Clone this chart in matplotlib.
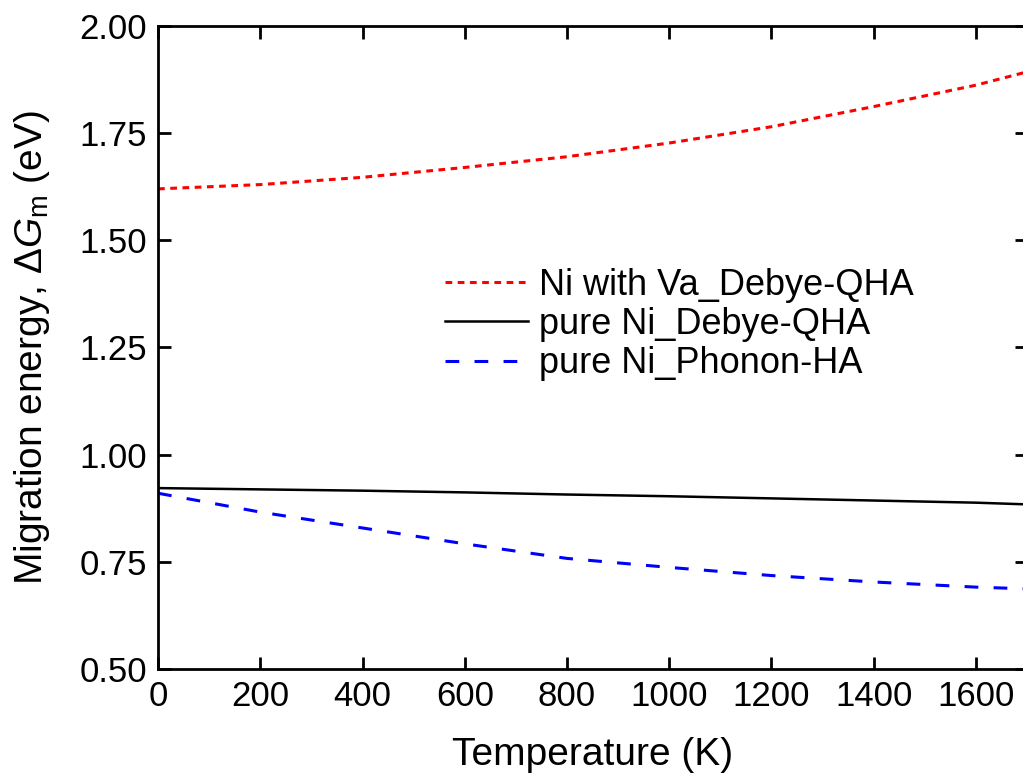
import numpy as np
import matplotlib
matplotlib.use("Agg")
from matplotlib import pyplot as plt

plt.rcParams['font.family'] = ['Liberation Sans', 'DejaVu Sans']
plt.rcParams['mathtext.fontset'] = 'custom'
plt.rcParams['mathtext.rm'] = 'Liberation Sans'
plt.rcParams['mathtext.it'] = 'Liberation Sans:italic'

# temperature grid (K) and migration energies (eV)
T = [0, 200, 400, 600, 800, 1000, 1200, 1400, 1600, 1700]
ni_va_debye = [1.620, 1.630, 1.647, 1.670, 1.695, 1.727, 1.765, 1.812, 1.862, 1.893]
ni_debye = [0.922, 0.919, 0.916, 0.912, 0.907, 0.903, 0.898, 0.893, 0.888, 0.884]
ni_phonon = [0.910, 0.866, 0.829, 0.792, 0.758, 0.737, 0.718, 0.703, 0.691, 0.687]

labels = ['Ni with Va_Debye-QHA', 'pure Ni_Debye-QHA', 'pure Ni_Phonon-HA']
xticks = [0, 200, 400, 600, 800, 1000, 1200, 1400, 1600]
yticks = [0.50, 0.75, 1.00, 1.25, 1.50, 1.75, 2.00]

fig = plt.figure(figsize=(10.23, 7.8), dpi=100)
ax = fig.add_axes([0.1545, 0.1423, 0.8495, 0.8244])

ax.plot(T, ni_va_debye, color='red', lw=2.2, dashes=(2.2, 1.8), label=labels[0])
ax.plot(T, ni_debye, color='black', lw=1.8, label=labels[1])
ax.plot(T, ni_phonon, color='blue', lw=2.2, dashes=(4.5, 5), label=labels[2])

ax.set_xlim(0, 1700)
ax.set_ylim(0.5, 2.0)
ax.set_xticks(xticks)
ax.set_yticks(yticks)
ax.set_yticklabels(['%.2f' % v for v in yticks])

for s in ax.spines.values():
    s.set_linewidth(2.0)
ax.tick_params(direction='in', length=9, width=2.0, labelsize=25,
               top=True, right=True, pad=8)

ax.set_xlabel('Temperature (K)', fontsize=28, labelpad=17)
ax.set_ylabel(r'Migration energy, $\Delta \mathit{G}_\mathrm{m}$ (eV)', fontsize=28, labelpad=20)

ax.legend(loc='upper left', bbox_to_anchor=(0.33, 0.624), frameon=False,
          fontsize=26, handlelength=2.3, handletextpad=0.3, labelspacing=0.12,
          borderaxespad=0, borderpad=0)

fig.savefig('out.png', dpi=100)
